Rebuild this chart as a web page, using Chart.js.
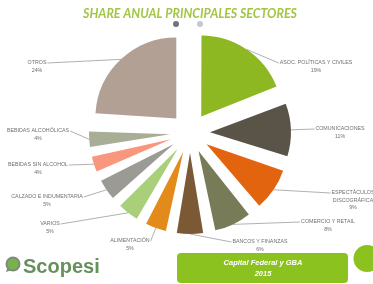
<!DOCTYPE html>
<html><head><meta charset="utf-8">
<script src="https://cdn.jsdelivr.net/npm/chart.js@4.4.1/dist/chart.umd.min.js"></script>
<style>html,body{margin:0;padding:0;background:#fff;overflow:hidden}canvas{display:block}</style>
</head><body>
<canvas id="c" width="373" height="284"></canvas>
<script>
// ---- data ----
const chartTitle = "SHARE ANUAL PRINCIPALES SECTORES";
const categories = [
  "ASOC. POLÍTICAS Y CIVILES",
  "COMUNICACIONES",
  "ESPECTÁCULOS\nDISCOGRÁFICA",
  "COMERCIO Y RETAIL",
  "BANCOS Y FINANZAS",
  "ALIMENTACIÓN",
  "VARIOS",
  "CALZADO E INDUMENTARIA",
  "BEBIDAS SIN ALCOHOL",
  "BEBIDAS ALCOHÓLICAS",
  "OTROS"
];
const shares = [19, 11, 9, 8, 6, 5, 5, 5, 4, 4, 24];
const brandName = "Scopesi";
const footerLines = ["Capital Federal y GBA", "2015"];

// ---- styles / layout ----
const sliceColors = ["#8db821","#5a5347","#e3640f","#787b57","#7b5935","#e28b1b","#a9cf7b","#9b9a95","#f8977e","#a8ae95","#b2a095"];
const explodePx = 20;
const pieRadius = 81;
// label first-line centre, relative to pie centre
const labelOffsets = [[126,-70],[150,-4],[163,60],[138,89],[70,109],[-60,108],[-140,91],[-143,64],[-152,32],[-152,-2],[-153,-70]];

const decor = {
  id: 'decor',
  beforeDraw(chart) {
    const ctx = chart.ctx;
    ctx.save(); ctx.fillStyle = '#fff'; ctx.fillRect(0,0,chart.width,chart.height); ctx.restore();
  },
  beforeDatasetsDraw(chart) {
    // keep every exploded slice at the same radius (Excel style)
    const meta = chart.getDatasetMeta(0);
    meta.data.forEach(el => {
      const off = (el.options.offset || 0) / 4;
      const fix = 1 - Math.sin(Math.min(Math.PI, el.circumference || 0));
      el._origR = el.outerRadius;
      el.outerRadius = el.outerRadius - off * fix;
    });
  },
  afterDatasetsDraw(chart) {
    const ctx = chart.ctx;
    const meta = chart.getDatasetMeta(0);
    ctx.save();
    ctx.font = '5.3px "Liberation Sans", Arial, sans-serif';
    ctx.textBaseline = 'middle';
    ctx.textAlign = 'center';
    meta.data.forEach((el, i) => {
      el.outerRadius = el._origR;
      const mid = (el.startAngle + el.endAngle) / 2;
      const off = (el.options.offset || 0) / 4;
      const cx = el.x + Math.cos(mid) * off, cy = el.y + Math.sin(mid) * off;
      const ax = cx + Math.cos(mid) * pieRadius, ay = cy + Math.sin(mid) * pieRadius;
      const lines = categories[i].split('\n').concat([shares[i] + '%']);
      const lx = el.x + labelOffsets[i][0], ly = el.y + labelOffsets[i][1];
      const w = ctx.measureText(lines[0]).width;
      const ex = lx < ax ? lx + w / 2 + 1 : lx - w / 2 - 1;
      ctx.strokeStyle = '#8f8f8f'; ctx.lineWidth = 0.7;
      ctx.beginPath(); ctx.moveTo(ax, ay); ctx.lineTo(ex, ly); ctx.stroke();
      ctx.fillStyle = '#6f6f6f';
      lines.forEach((t, k) => ctx.fillText(t, lx, ly + k * 7.5));
    });
    ctx.restore();
  },
  afterDraw(chart) {
    const ctx = chart.ctx;
    ctx.save();
    // title
    ctx.fillStyle = '#a2c544';
    ctx.font = 'italic bold 12.4px Lato, "Open Sans", sans-serif';
    ctx.textAlign = 'center'; ctx.textBaseline = 'middle';
    ctx.fillText(chartTitle, 190, 14);
    // two small dots
    ctx.fillStyle = '#6b7580'; ctx.beginPath(); ctx.arc(176, 24, 3, 0, Math.PI*2); ctx.fill();
    ctx.fillStyle = '#c5c9cd'; ctx.beginPath(); ctx.arc(200, 24, 3, 0, Math.PI*2); ctx.fill();
    // logo icon
    ctx.fillStyle = '#7f8a7c';
    ctx.beginPath(); ctx.arc(13, 264, 7.5, 0, Math.PI*2); ctx.fill();
    ctx.beginPath(); ctx.moveTo(6, 272); ctx.lineTo(8, 266); ctx.lineTo(12, 270); ctx.closePath(); ctx.fill();
    ctx.fillStyle = '#78b34a';
    ctx.beginPath(); ctx.arc(13, 264, 5.5, 0, Math.PI*2); ctx.fill();
    // brand
    ctx.fillStyle = '#67905c';
    ctx.font = 'bold 20px "Liberation Sans", Arial, sans-serif';
    ctx.textAlign = 'left'; ctx.textBaseline = 'alphabetic';
    ctx.fillText(brandName, 23, 273);
    // banner
    ctx.fillStyle = '#8cc220';
    ctx.beginPath(); ctx.roundRect(177, 253, 171, 30, 4); ctx.fill();
    ctx.fillStyle = '#ffffff';
    ctx.font = 'italic bold 7.5px "Liberation Sans", Arial, sans-serif';
    ctx.textAlign = 'center'; ctx.textBaseline = 'middle';
    ctx.fillText(footerLines[0], 263, 263);
    ctx.fillText(footerLines[1], 263, 274);
    // right circle
    ctx.fillStyle = '#8cc220';
    ctx.beginPath(); ctx.arc(367, 258.5, 13.5, 0, Math.PI*2); ctx.fill();
    ctx.restore();
  }
};

new Chart(document.getElementById('c'), {
  type: 'pie',
  data: {
    labels: categories,
    datasets: [{
      data: shares,
      backgroundColor: sliceColors,
      borderWidth: 0,
      offset: explodePx * 4,
      clip: false
    }]
  },
  options: {
    responsive: false,
    animation: false,
    events: [],
    radius: pieRadius,
    layout: { padding: { left: 7, right: 0, top: 30, bottom: 48 } },
    plugins: { legend: { display: false }, tooltip: { enabled: false }, title: { display: false } }
  },
  plugins: [decor]
});
</script>
</body></html>
